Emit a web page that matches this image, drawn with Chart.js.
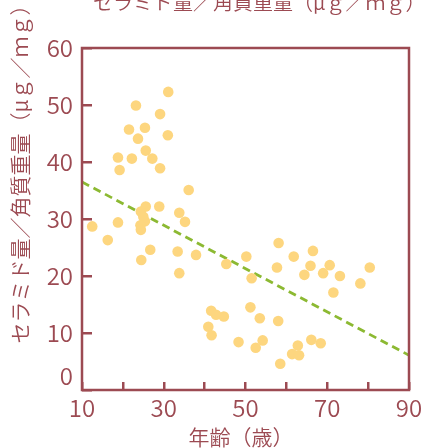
<!DOCTYPE html>
<html>
<head>
<meta charset="utf-8">
<script src="https://cdn.jsdelivr.net/npm/chart.js@4"></script>
<style>
  html, body { margin: 0; padding: 0; background: #ffffff; }
  #wrap { width: 421px; height: 448px; position: relative; }
</style>
</head>
<body>
<div id="wrap"><canvas id="c" width="421" height="448"></canvas></div>
<script>
const ages = [31.1,23.2,29.1,21.5,25.4,23.7,31.0,25.6,18.8,22.2,27.2,19.2,29.1,36.1,25.6,28.9,24.4,33.8,25.0,12.5,18.8,35.2,25.4,24.3,24.4,16.3,26.7,33.4,37.9,24.5,33.8,
              58.1,45.3,50.2,57.7,61.8,66.5,65.9,70.6,64.4,69.0,73.1,80.4,51.5,78.1,71.5,41.6,42.8,44.7,51.2,53.5,58.0,40.9,41.7,48.3,54.2,52.5,66.1,68.4,62.8,61.4,63.1,58.5];
const ceramide = [52.3,49.9,48.4,45.7,46.0,44.1,44.7,42.0,40.8,40.6,40.6,38.6,38.9,35.1,32.2,32.2,31.3,31.1,30.4,28.7,29.4,29.5,29.6,28.9,28.1,26.3,24.6,24.3,23.7,22.8,20.5,
                  25.8,22.1,23.4,21.5,23.4,24.4,21.8,21.9,20.2,20.5,20.0,21.5,19.6,18.7,17.1,13.9,13.2,12.9,14.5,12.6,12.1,11.1,9.6,8.4,8.7,7.4,8.8,8.2,7.8,6.3,6.1,4.6];
const trendAges = [10, 90];
const trendValues = [36.5, 6.1];
const xLabelTicks = [10, 30, 50, 70, 90];
const titleText = 'セラミド量／角質重量（μｇ／ｍｇ）';
const yTitleText = 'セラミド量／角質重量（μｇ／ｍｇ）';
const xTitleText = '年齢（歳）';

const AXIS = '#9c4a52';
const FONT = '"Noto Sans CJK JP", "Noto Sans", sans-serif';
const W = '350';

const points = ages.map((a, i) => ({ x: a, y: ceramide[i] }));
const trend = trendAges.map((a, i) => ({ x: a, y: trendValues[i] }));

const framePlugin = {
  id: 'frame',
  afterDraw(chart) {
    const { ctx, chartArea: a } = chart;
    ctx.save();
    ctx.strokeStyle = AXIS;
    ctx.lineWidth = 2.5;
    ctx.strokeRect(a.left, a.top, a.right - a.left, a.bottom - a.top);
    ctx.fillStyle = AXIS;
    ctx.font = W + ' 20px ' + FONT;
    ctx.textAlign = 'left';
    ctx.textBaseline = 'middle';
    ctx.fillText(titleText, 93, 2.5);
    ctx.font = W + ' 21px ' + FONT;
    ctx.textAlign = 'center';
    ctx.fillText(xTitleText, 241, 437);
    ctx.translate(20, 169);
    ctx.rotate(-Math.PI / 2);
    ctx.font = W + ' 21px ' + FONT;
    ctx.fillText(yTitleText, 0, 0);
    ctx.restore();
  }
};

new Chart(document.getElementById('c'), {
  type: 'scatter',
  data: {
    datasets: [
      {
        type: 'scatter',
        data: points,
        backgroundColor: 'rgb(253,214,127)',
        borderWidth: 0,
        pointRadius: 5.3,
        pointHoverRadius: 5.3,
        order: 1
      },
      {
        type: 'line',
        data: trend,
        borderColor: 'rgb(140,185,50)',
        borderWidth: 2.8,
        borderDash: [8, 5],
        pointRadius: 0,
        fill: false,
        order: 2
      }
    ]
  },
  options: {
    responsive: false,
    animation: false,
    events: [],
    layout: { padding: { top: 48, right: 12, left: 0, bottom: 0 } },
    plugins: { legend: { display: false }, tooltip: { enabled: false }, title: { display: false } },
    scales: {
      x: {
        type: 'linear',
        min: 10, max: 90,
        ticks: {
          stepSize: 10,
          color: AXIS,
          padding: 11,
          maxRotation: 0,
          autoSkip: false,
          font: { family: FONT, size: 24, weight: W },
          callback: v => xLabelTicks.includes(v) ? String(v) : ''
        },
        grid: { drawOnChartArea: false, drawTicks: true, tickLength: -8, color: AXIS, lineWidth: 2.5 },
        border: { display: false },
        afterFit(s) { s.height = 58; s.paddingLeft = 0; s.paddingRight = 0; }
      },
      y: {
        type: 'linear',
        min: 0, max: 60,
        ticks: {
          stepSize: 10,
          color: AXIS,
          padding: 19,
          autoSkip: false,
          font: { family: FONT, size: 24, weight: W },
          callback: v => v === 0 ? ['0', ''] : String(v)
        },
        grid: { drawOnChartArea: false, drawTicks: true, tickLength: -10, color: AXIS, lineWidth: 2.5 },
        border: { display: false },
        afterFit(s) { s.width = 82; s.paddingTop = 0; s.paddingBottom = 0; }
      }
    }
  },
  plugins: [framePlugin]
});
</script>
</body>
</html>
